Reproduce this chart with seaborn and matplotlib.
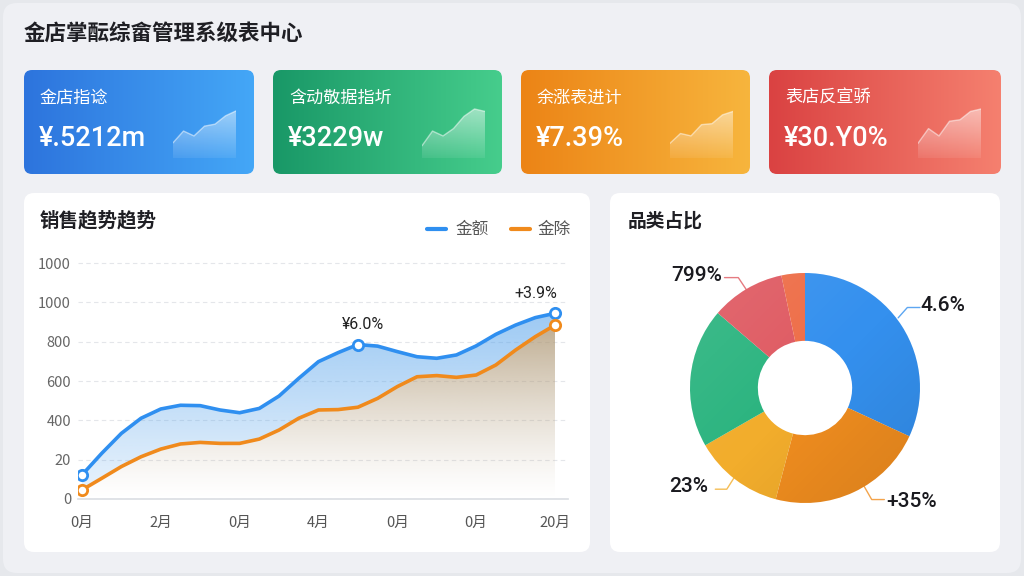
import numpy as np
import pandas as pd
import matplotlib
matplotlib.use("Agg")
import matplotlib.pyplot as plt
from matplotlib.patches import FancyBboxPatch
from matplotlib.colors import to_rgb
import seaborn as sns

sns.set_theme(style="white")
plt.rcParams['font.family'] = ['Noto Sans CJK SC', 'DejaVu Sans']
NUM_FONT = ['Roboto', 'Noto Sans CJK SC', 'DejaVu Sans']

W, H = 1024, 576

# 数据
titulo = "金店掌酝综畲管理系级表中心"
card_labels = ["金店指谂", "含动敬据指圻", "余涨表进计", "表店反宣骄"]
card_values = ["¥.5212m", "¥3229w", "¥7.39%", "¥30.Y0%"]
card_colors = [("#2d74dd", "#44a7f7"), ("#199867", "#46cd8c"),
               ("#ec8416", "#f7b53d"), ("#da4242", "#f5806f")]
spark_vals = [
    [0.31, 0.55, 0.45, 0.65, 0.69, 0.86, 0.96],
    [0.25, 0.55, 0.45, 0.60, 0.85, 1.00, 0.95],
    [0.30, 0.50, 0.45, 0.68, 0.70, 0.88, 0.95],
    [0.30, 0.60, 0.45, 0.75, 0.78, 0.95, 1.00],
]

meses = [i / 2 for i in range(25)]
x_ticks = [0, 2, 4, 6, 8, 10, 12]
x_labels = ["0月", "2月", "0月", "4月", "0月", "0月", "20月"]
y_ticks = [0, 200, 400, 600, 800, 1000, 1200]
y_labels = ["0", "20", "400", "600", "800", "1000", "1000"]
serie_azul = [122, 232, 334, 411, 458, 477, 475, 453, 439, 461, 524, 614, 699,
              745, 786, 778, 750, 724, 716, 733, 779, 838, 885, 923, 945]
serie_laranja = [46, 105, 165, 215, 254, 280, 288, 283, 283, 305, 351, 411, 453,
                 455, 467, 512, 572, 622, 628, 619, 631, 682, 758, 826, 885]
nomes_series = ["金额", "金除"]
marc_azul = [0, 14, 24]
marc_laranja = [0, 24]
anotacoes = {14: "¥6.0%", 24: "+3.9%"}

categorias = ["A", "B", "C", "D", "E", "F"]
fatias = [31.9, 22.2, 12.6, 19.6, 10.4, 3.3]
cores_fatias = ["#3490ee", "#f08d1f", "#f2ad2c", "#2bb47f", "#df5a62", "#ee6d47"]
rotulos_pie = ["4.6%", "+35%", "23%", "799%"]

AZUL = "#2f8ff0"
LARANJA = "#f08a1c"

fig = plt.figure(figsize=(W / 100, H / 100), dpi=100)
fig.patch.set_facecolor("#e6e8ec")

bg = fig.add_axes([0, 0, 1, 1])
bg.set_axis_off()


def caixa(x, y, w, h, cor, r=8, z=1):
    p = FancyBboxPatch((x, y), w, h, boxstyle=f"round,pad=0,rounding_size={r}",
                       facecolor=cor, edgecolor="none", zorder=z, transform=bg.transData)
    bg.add_patch(p)
    return p


caixa(3, 3, W - 6, H - 6, "#eff0f4", r=14, z=0)
bg.text(24, 33, titulo, fontsize=15.5, fontweight="bold", color="#1f1f24", va="center")

# cartões
card_x = [24, 273, 521, 769]
card_w = [230, 229, 229, 232]
for i in range(4):
    x0, w = card_x[i], card_w[i]
    c0, c1 = np.array(to_rgb(card_colors[i][0])), np.array(to_rgb(card_colors[i][1]))
    t = np.linspace(0, 1, 200)
    grad = (c0[None, :] * (1 - t[:, None]) + c1[None, :] * t[:, None])[None, :, :]
    img = bg.imshow(grad, extent=[x0, x0 + w, 174, 70], aspect="auto", zorder=2)
    p = caixa(x0, 70, w, 104, "none", z=2)
    img.set_clip_path(p)
    bg.text(x0 + 16, 98, card_labels[i], fontsize=12.3, color="white", va="center", zorder=3)
    bg.text(x0 + 15, 139, card_values[i], fontsize=19.5, fontweight="medium", family=NUM_FONT,
            color="white", va="center", zorder=3)

    sp = fig.add_axes([(x0 + 149) / W, (H - 158) / H, 63 / W, 50 / H])
    sp.set_axis_off()
    xs = np.arange(len(spark_vals[i]))
    area = sp.fill_between(xs, spark_vals[i], 0, color="none", linewidth=0)
    fade = np.ones((64, 1, 4))
    fade[:, 0, 3] = np.linspace(0.08, 0.5, 64)
    im = sp.imshow(fade, extent=[0, len(xs) - 1, 0, 1.02], origin="lower", aspect="auto")
    im.set_clip_path(area.get_paths()[0], transform=sp.transData)
    sp.plot(xs, spark_vals[i], color="white", alpha=0.5, linewidth=1)
    sp.set_xlim(0, len(xs) - 1)
    sp.set_ylim(0, 1.02)

# painéis
caixa(24, 193, 566, 359, "white", r=10, z=1)
caixa(610, 193, 390, 359, "white", r=10, z=1)
bg.text(40, 221, "销售趋势趋势", fontsize=14, fontweight="bold", color="#1f1f24", va="center", zorder=3)
bg.text(628, 221, "品类占比", fontsize=13.5, fontweight="bold", color="#1f1f24", va="center", zorder=3)
bg.plot([427, 446], [229, 229], color=AZUL, linewidth=3, solid_capstyle="round", zorder=3)
bg.text(455, 229, nomes_series[0], fontsize=12, color="#555", va="center", zorder=3)
bg.plot([511, 530], [229, 229], color=LARANJA, linewidth=3, solid_capstyle="round", zorder=3)
bg.text(538, 229, nomes_series[1], fontsize=12, color="#555", va="center", zorder=3)
bg.set_xlim(0, W)
bg.set_ylim(H, 0)

# gráfico de linhas
ax = fig.add_axes([78 / W, (H - 499) / H, 490 / W, 248 / H])
ax.set_facecolor("none")
n = len(meses)
df = pd.DataFrame({
    "月份": meses * 2,
    "值": serie_azul + serie_laranja,
    "系列": [nomes_series[0]] * n + [nomes_series[1]] * n,
})

xmin, xmax, ymax = -0.10, 12.33, 1262
poly_l = ax.fill_between(meses, serie_laranja, 0, color="none", linewidth=0)
poly_a = ax.fill_between(meses, serie_azul, serie_laranja, color="none", linewidth=0)

g = np.linspace(0, 1, 256)
tan = np.array(to_rgb("#b09a78"))
img_l = np.zeros((256, 1, 4))
img_l[:, 0, :3] = tan
img_l[:, 0, 3] = (g ** 1.3) * 0.88
im1 = ax.imshow(img_l, extent=[xmin, xmax, 0, 950], origin="lower", aspect="auto", zorder=1)
im1.set_clip_path(poly_l.get_paths()[0], transform=ax.transData)

azl = np.array(to_rgb("#5aa5ec"))
img_a = np.zeros((256, 1, 4))
img_a[:, 0, :3] = azl
img_a[:, 0, 3] = 0.12 + g * 0.5
im2 = ax.imshow(img_a, extent=[xmin, xmax, 0, 1000], origin="lower", aspect="auto", zorder=1)
im2.set_clip_path(poly_a.get_paths()[0], transform=ax.transData)

sns.lineplot(data=df, x="月份", y="值", hue="系列", palette=[AZUL, LARANJA],
             linewidth=2.6, legend=False, ax=ax, zorder=3)
ax.scatter([meses[i] for i in marc_azul], [serie_azul[i] for i in marc_azul], s=55,
           facecolor="white", edgecolor=AZUL, linewidth=2, zorder=5)
ax.scatter([meses[i] for i in marc_laranja], [serie_laranja[i] for i in marc_laranja], s=55,
           facecolor="white", edgecolor=LARANJA, linewidth=2, zorder=5)
for i, txt in anotacoes.items():
    dx = -13.5 if i == n - 1 else 4
    ax.annotate(txt, (meses[i], serie_azul[i]), xytext=(dx, 14.5), textcoords="offset points",
                ha="center", va="center", fontsize=11.5, family=NUM_FONT, color="#222")

ax.set_xlim(xmin, xmax)
ax.set_ylim(0, ymax)
ax.set_xticks(x_ticks)
ax.set_xticklabels(x_labels)
ax.set_yticks(y_ticks)
ax.set_yticklabels(y_labels)
ax.set_xlabel("")
ax.set_ylabel("")
ax.tick_params(axis="x", length=0, labelsize=10.5, colors="#555", pad=12)
ax.tick_params(axis="y", length=0, labelsize=10.5, colors="#666", pad=5)
ax.yaxis.grid(True, linestyle=(0, (4, 3)), color="#e4e6ea", linewidth=0.8)
for s in ["top", "left", "right"]:
    ax.spines[s].set_visible(False)
ax.spines["bottom"].set_color("#dcdfe4")
ax.set_axisbelow(True)

# rosca
R = 1.6
ax2 = fig.add_axes([(805 - R * 115) / W, (H - 388 - R * 115) / H, 2 * R * 115 / W, 2 * R * 115 / H])
wedges, _ = ax2.pie(fatias, colors=cores_fatias, startangle=90, counterclock=False,
                    wedgeprops=dict(width=0.59, edgecolor="none", linewidth=0))
yy, xx = np.mgrid[1:-1:128j, -1:1:128j]
d = (xx - yy) / 2.0
shade = np.zeros((128, 128, 4))
shade[..., 0] = np.where(d < 0, 1.0, 0.0)
shade[..., 1] = shade[..., 0]
shade[..., 2] = shade[..., 0]
shade[..., 3] = np.abs(d) * 0.10
for wd in wedges:
    sim = ax2.imshow(shade, extent=[-1, 1, -1, 1], aspect="auto", zorder=3)
    sim.set_clip_path(wd)
ax2.set_xlim(-R, R)
ax2.set_ylim(-R, R)
ax2.set_aspect("equal")
ax2.set_axis_off()

lideres = [
    ([0.81, 0.89, 1.00], [0.61, 0.70, 0.70], cores_fatias[0], (1.00, 0.72), "left", rotulos_pie[0]),
    ([0.50, 0.58, 0.69], [-0.83, -0.97, -0.97], cores_fatias[1], (0.71, -0.99), "left", rotulos_pie[1]),
    ([-0.61, -0.68, -0.78], [-0.77, -0.88, -0.88], cores_fatias[2], (-0.84, -0.86), "right", rotulos_pie[2]),
    ([-0.50, -0.58, -0.70], [0.84, 0.96, 0.96], cores_fatias[4], (-0.72, 0.98), "right", rotulos_pie[3]),
]
for lx, ly, c, pos, ha, txt in lideres:
    ax2.plot(lx, ly, color=c, linewidth=1, alpha=0.8)
    ax2.text(pos[0], pos[1], txt, ha=ha, va="center", fontsize=15, fontweight="medium",
             family=NUM_FONT, color="#1a1a1f")

fig.savefig("out.png", dpi=100, facecolor=fig.get_facecolor())
